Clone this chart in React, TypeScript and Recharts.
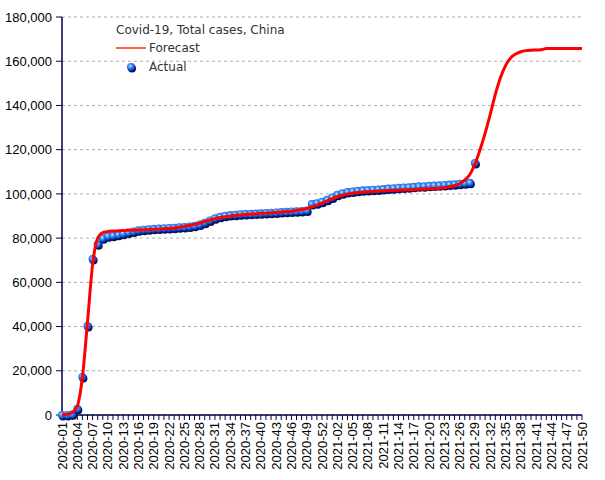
import React from 'react';
import { LineChart, Line, XAxis, YAxis, CartesianGrid } from 'recharts';

const weeks: string[] = [
  '2020-01','2020-02','2020-03','2020-04','2020-05','2020-06','2020-07','2020-08','2020-09','2020-10',
  '2020-11','2020-12','2020-13','2020-14','2020-15','2020-16','2020-17','2020-18','2020-19','2020-20',
  '2020-21','2020-22','2020-23','2020-24','2020-25','2020-26','2020-27','2020-28','2020-29','2020-30',
  '2020-31','2020-32','2020-33','2020-34','2020-35','2020-36','2020-37','2020-38','2020-39','2020-40',
  '2020-41','2020-42','2020-43','2020-44','2020-45','2020-46','2020-47','2020-48','2020-49','2020-50',
  '2020-51','2020-52','2020-53',
  '2021-01','2021-02','2021-03','2021-04','2021-05','2021-06','2021-07','2021-08','2021-09','2021-10',
  '2021-11','2021-12','2021-13','2021-14','2021-15','2021-16','2021-17','2021-18','2021-19','2021-20',
  '2021-21','2021-22','2021-23','2021-24','2021-25','2021-26','2021-27','2021-28','2021-29','2021-30',
  '2021-31','2021-32','2021-33','2021-34','2021-35','2021-36','2021-37','2021-38','2021-39','2021-40',
  '2021-41','2021-42','2021-43','2021-44','2021-45','2021-46','2021-47','2021-48','2021-49','2021-50',
];

// Actual total cases (thousands), weeks 2020-01 .. 2021-29
const actualK: number[] = [
  0, 0.05, 0.3, 2.8, 17.2, 40.2, 70.5, 77.2, 79.9, 80.8,
  81.1, 81.5, 82.0, 82.5, 83.0, 83.5, 83.8, 84.0, 84.2, 84.3,
  84.5, 84.6, 84.7, 84.9, 85.0, 85.3, 85.6, 86.2, 87.0, 88.0,
  89.0, 89.7, 90.1, 90.4, 90.6, 90.8, 90.9, 91.0, 91.1, 91.2,
  91.4, 91.5, 91.6, 91.8, 91.9, 92.0, 92.1, 92.3, 92.5, 95.4,
  95.8, 96.5, 97.3, 98.4, 99.6, 100.3, 100.8, 101.1, 101.4, 101.6,
  101.8, 101.9, 102.0, 102.2, 102.4, 102.6, 102.8, 102.9, 103.0, 103.2,
  103.4, 103.5, 103.7, 103.8, 103.9, 104.0, 104.2, 104.4, 104.6, 104.8,
  105.0, 114.0,
];

// Forecast total cases (thousands), weeks 2020-01 .. 2021-50
const forecastK: number[] = [
  0, 0.3, 1.0, 4.0, 17, 42, 68, 80, 82.5, 83,
  83.2, 83.3, 83.4, 83.5, 83.6, 83.7, 83.8, 83.9, 84.0, 84.1,
  84.2, 84.4, 84.6, 84.9, 85.3, 85.7, 86.2, 86.8, 87.5, 88.2,
  88.8, 89.3, 89.7, 90.0, 90.3, 90.5, 90.7, 90.9, 91.0, 91.2,
  91.3, 91.5, 91.6, 91.8, 92.0, 92.2, 92.5, 92.9, 93.4, 94.1,
  94.9, 95.8, 96.8, 97.8, 98.7, 99.4, 99.9, 100.3, 100.6, 100.8,
  101.0, 101.1, 101.3, 101.4, 101.5, 101.6, 101.7, 101.8, 101.9, 102.0,
  102.1, 102.2, 102.3, 102.4, 102.6, 102.8, 103.2, 103.8, 104.7, 106.2,
  108.8, 113.5, 120.0, 127.5, 136.0, 145.0, 152.5, 158.0, 161.5, 163.3,
  164.3, 164.8, 165.0, 165.1, 165.2, 165.7, 165.8, 165.8, 165.8, 165.8,
  165.8, 165.8, 165.8,
];

const yTicks: number[] = [0, 20000, 40000, 60000, 80000, 100000, 120000, 140000, 160000, 180000];

const data = weeks.map((w, i) => ({
  week: w,
  actual: i < actualK.length ? actualK[i] * 1000 : null,
  forecast: forecastK[i] * 1000,
}));

const AXIS_COLOR = '#000048';

const SphereDot = (props: any) => {
  const { cx, cy, value } = props;
  if (cx == null || cy == null || value == null) return null;
  return (
    <g>
      <defs>
        <radialGradient id="sphereGrad" cx="42%" cy="38%" r="62%">
          <stop offset="0%" stopColor="#dcefff" />
          <stop offset="30%" stopColor="#4ea2ff" />
          <stop offset="75%" stopColor="#1456d6" />
          <stop offset="100%" stopColor="#0a2f8a" />
        </radialGradient>
      </defs>
      <circle cx={cx + 1} cy={cy + 1.5} r={4} fill="#00125c" />
      <circle cx={cx} cy={cy} r={4} fill="url(#sphereGrad)" />
    </g>
  );
};

const XTick = (props: any) => {
  const { x, y, payload, index } = props;
  const idx = typeof index === 'number' ? index : weeks.indexOf(payload.value);
  if (idx % 3 !== 0) return null;
  return (
    <text
      x={x}
      y={y}
      transform={`rotate(-90, ${x}, ${y})`}
      textAnchor="end"
      dy="0.35em"
      fontSize={13}
      fontFamily="'Liberation Sans', Arial, sans-serif"
      fill="#000"
    >
      {payload.value}
    </text>
  );
};

export default function App() {
  const lineProps: any = { zIndex: 2000 };
  return (
    <div style={{ position: 'absolute', left: 0, top: 0, width: 605, height: 480, background: '#fff' }}>
      <LineChart
        width={605}
        height={480}
        data={data}
        margin={{ top: 17, right: 23, bottom: 0, left: 0 }}
      >
        <CartesianGrid horizontal vertical={false} stroke="#aaaaaa" strokeDasharray="3 3" />
        <XAxis
          dataKey="week"
          interval={0}
          height={65}
          tick={<XTick />}
          tickSize={5}
          tickMargin={2}
          stroke={AXIS_COLOR}
          tickLine={{ stroke: AXIS_COLOR }}
          axisLine={{ stroke: AXIS_COLOR, strokeWidth: 1.5 }}
        />
        <YAxis
          width={62}
          domain={[0, 180000]}
          ticks={yTicks}
          interval={0}
          tickSize={6}
          tickMargin={4}
          tickFormatter={(v: number) => v.toLocaleString('en-US')}
          tick={{ fontSize: 13, fill: '#000', fontFamily: "'Liberation Sans', Arial, sans-serif" }}
          stroke={AXIS_COLOR}
          tickLine={{ stroke: AXIS_COLOR }}
          axisLine={{ stroke: AXIS_COLOR, strokeWidth: 1.5 }}
        />
        <Line
          dataKey="actual"
          stroke="none"
          dot={<SphereDot />}
          activeDot={false}
          isAnimationActive={false}
        />
        <Line
          type="monotone"
          dataKey="forecast"
          stroke="#ff0000"
          strokeWidth={3}
          dot={false}
          activeDot={false}
          isAnimationActive={false}
          {...lineProps}
        />
      </LineChart>
      <div
        style={{
          position: 'absolute', left: 116, top: 21, fontFamily: "'DejaVu Sans', sans-serif",
          fontSize: 12, color: '#333', lineHeight: '18px', whiteSpace: 'nowrap',
        }}
      >
        Covid-19, Total cases, China
      </div>
      <svg style={{ position: 'absolute', left: 116, top: 44 }} width={32} height={8}>
        <line x1={0} y1={4} x2={30} y2={4} stroke="#ff3300" strokeWidth={1.5} />
      </svg>
      <div
        style={{
          position: 'absolute', left: 149, top: 39, fontFamily: "'DejaVu Sans', sans-serif",
          fontSize: 12, color: '#333', lineHeight: '18px', whiteSpace: 'nowrap',
        }}
      >
        Forecast
      </div>
      <svg style={{ position: 'absolute', left: 124, top: 60 }} width={14} height={14}>
        <defs>
          <radialGradient id="legendSphere" cx="42%" cy="38%" r="62%">
            <stop offset="0%" stopColor="#dcefff" />
            <stop offset="30%" stopColor="#4ea2ff" />
            <stop offset="75%" stopColor="#1456d6" />
            <stop offset="100%" stopColor="#0a2f8a" />
          </radialGradient>
        </defs>
        <circle cx={8} cy={8.5} r={4} fill="#00125c" />
        <circle cx={7} cy={7} r={4} fill="url(#legendSphere)" />
      </svg>
      <div
        style={{
          position: 'absolute', left: 149, top: 58, fontFamily: "'DejaVu Sans', sans-serif",
          fontSize: 12, color: '#333', lineHeight: '18px', whiteSpace: 'nowrap',
        }}
      >
        Actual
      </div>
    </div>
  );
}
